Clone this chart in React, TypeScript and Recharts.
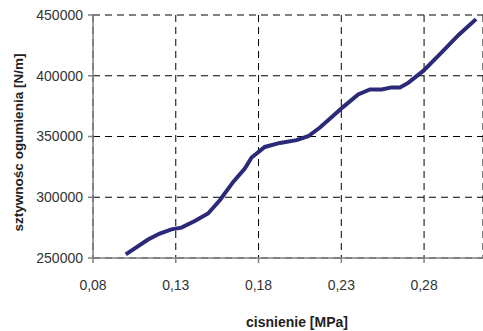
import { LineChart, Line, XAxis, YAxis, CartesianGrid, Label } from 'recharts'

const pressure = [
	0.0998, 0.1133, 0.1203, 0.1274, 0.1334, 0.1415, 0.1495, 0.1566, 0.1647, 0.1717,
	0.1758, 0.1838, 0.1929, 0.203, 0.21, 0.2171, 0.2251, 0.2312, 0.2402, 0.2473,
	0.2544, 0.2604, 0.2654, 0.2704, 0.2795, 0.2896, 0.3007, 0.3114,
]
const stiffness = [
	253000, 265200, 270100, 273600, 275000, 280500, 286600, 297500, 312600, 323600,
	332700, 341400, 344700, 347000, 350200, 357400, 367000, 374400, 384600, 388700,
	388700, 390400, 390400, 394100, 404000, 417800, 433400, 446600,
]
const xTicks = [0.08, 0.13, 0.18, 0.23, 0.28]
const yTicks = [250000, 300000, 350000, 400000, 450000]

const data = pressure.map((p, i) => ({ p, k: stiffness[i] }))

const font = 'Arial, "Liberation Sans", sans-serif'
const tickStyle = { fontSize: 14, fill: '#333', fontFamily: font }

const App = () => {
	return (
		<div style={{ position: 'absolute', left: 0, top: 0, background: '#fff' }}>
			<LineChart
				width={483}
				height={331}
				data={data}
				margin={{ top: 15, right: 0, left: 0, bottom: 23 }}
			>
				<CartesianGrid stroke='#000' strokeDasharray='7 5' />
				<XAxis
					dataKey='p'
					type='number'
					domain={[0.08, 0.3156]}
					ticks={xTicks}
					allowDataOverflow
					height={50}
					stroke='#808080'
					strokeWidth={1.5}
					tickSize={5}
					tickMargin={17}
					tick={tickStyle}
					tickFormatter={(v: number) => v.toFixed(2).replace('.', ',')}
				>
					<Label
						content={({ viewBox }: any) => (
							<text
								x={viewBox.x + viewBox.width / 2 + 9}
								y={327}
								textAnchor='middle'
								fontFamily={font}
								fontSize={14}
								fontWeight='bold'
								fill='#222'
							>
								cisnienie [MPa]
							</text>
						)}
					/>
				</XAxis>
				<YAxis
					type='number'
					domain={[250000, 450000]}
					ticks={yTicks}
					width={93}
					stroke='#808080'
					strokeWidth={1.5}
					tickSize={5}
					tickMargin={5}
					tick={tickStyle}
				>
					<Label
						content={({ viewBox }: any) => {
							const cy = viewBox.y + viewBox.height / 2 + 6
							return (
								<text
									x={18}
									y={cy}
									transform={`rotate(-90 18 ${cy})`}
									textAnchor='middle'
									dominantBaseline='central'
									fontFamily={font}
									fontSize={13.5}
									fontWeight='bold'
									fill='#222'
								>
									sztywnośc ogumienia [N/m]
								</text>
							)
						}}
					/>
				</YAxis>
				<Line
					dataKey='k'
					type='linear'
					stroke='#2a2a78'
					strokeWidth={4}
					dot={false}
					isAnimationActive={false}
				/>
			</LineChart>
		</div>
	)
}

export default App
